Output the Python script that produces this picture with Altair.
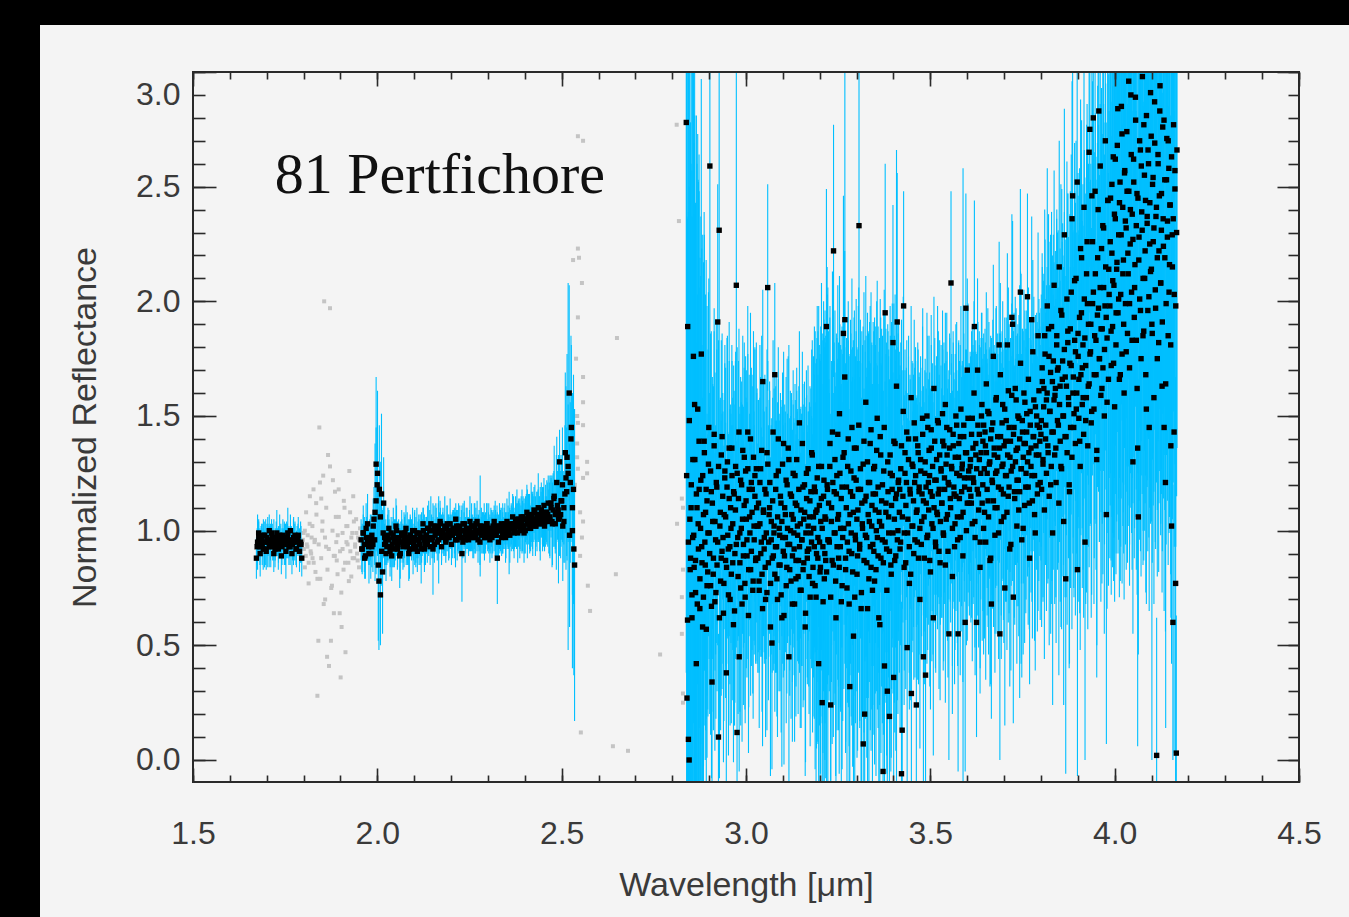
import altair as alt
import numpy as np
import pandas as pd

# ---------------------------------------------------------------------------
# Spectrum of 81 Pertfichore: reflectance and 1-sigma errors in hundredths.
# Every block is sampled evenly between its first and last wavelength (um);
# the "B" blocks are the interleaved second read-out of the same range.
# ---------------------------------------------------------------------------
A_RANGE = (1.672, 1.795)
A_REFL = [88, 95, 97, 93, 96, 94, 98, 92, 95, 97,
          96, 93, 95, 99, 94, 96, 92, 97, 95, 94,
          98, 96, 93, 95, 97, 94, 96, 99, 95, 93,
          96, 94, 97, 95, 92, 96, 98, 94, 95, 88]
A_ERR = [9, 12, 7, 8, 6, 9, 7, 8, 10, 6,
         7, 9, 8, 6, 7, 9, 8, 7, 6, 8,
         9, 7, 8, 6, 7, 9, 8, 11, 7, 8,
         6, 7, 9, 8, 7, 6, 8, 7, 9, 8]
A2_RANGE = (1.674, 1.793)
A2_REFL = [93, 99, 90, 96, 92, 98, 91, 95, 100, 93,
           97, 90, 94, 99, 92, 96, 89, 98, 94, 91,
           97, 93, 100, 90, 95, 98, 92, 96, 91, 94]
A2_ERR = [8, 6, 10, 7, 9, 6, 8, 11, 7, 9,
          6, 8, 7, 10, 9, 6, 8, 7, 9, 12,
          6, 8, 7, 9, 10, 6, 8, 7, 9, 8]

B_RANGE = (1.956, 2.535)
B_REFL = [96, 92, 99, 94, 89, 97, 103, 93, 95, 90,
          98, 94, 105, 108, 129, 120, 85, 118, 72, 116,
          82, 112, 97, 95, 93, 98, 96, 91, 99, 94,
          97, 92, 96, 100, 94, 97, 89, 95, 98, 93,
          96, 99, 94, 97, 95, 92, 98, 96, 100, 94,
          97, 93, 99, 96, 95, 98, 92, 97, 100, 96,
          94, 98, 101, 97, 100, 103, 96, 92, 102, 98,
          100, 95, 101, 99, 103, 97, 100, 98, 102, 96,
          101, 99, 97, 103, 100, 98, 101, 99, 96, 102,
          100, 98, 101, 97, 90, 103, 100, 96, 101, 99,
          98, 100, 98, 102, 99, 97, 101, 103, 99, 96,
          100, 102, 98, 101, 99, 97, 100, 103, 98, 101,
          99, 100, 97, 102, 99, 101, 98, 88, 100, 102,
          100, 97, 101, 99, 103, 98, 100, 102, 99, 101,
          101, 101, 103, 100, 104, 102, 99, 105, 103, 101,
          104, 106, 102, 100, 105, 103, 107, 104, 101, 106,
          103, 105, 108, 102, 104, 107, 105, 103, 109, 104,
          106, 102, 108, 105, 107, 104, 106, 112, 104, 109,
          115, 103, 108, 111, 105, 130, 107, 113, 102, 110,
          116, 123, 132, 128, 160, 121, 145, 100, 118, 85]
B_ERR = [9, 11, 8, 12, 10, 9, 13, 8, 10, 11,
         9, 12, 14, 30, 38, 25, 33, 28, 22, 35,
         27, 20, 15, 10, 8, 12, 9, 11, 7, 10,
         13, 8, 9, 11, 10, 8, 14, 9, 7, 10,
         12, 8, 9, 11, 10, 13, 8, 9, 10, 7,
         12, 9, 11, 8, 10, 9, 15, 8, 10, 11,
         9, 8, 10, 7, 9, 12, 8, 20, 9, 7,
         10, 8, 11, 9, 7, 10, 8, 9, 13, 7,
         10, 8, 9, 11, 7, 10, 8, 9, 12, 7,
         9, 8, 10, 7, 21, 9, 8, 10, 9, 7,
         8, 9, 7, 10, 8, 9, 11, 7, 8, 10,
         9, 22, 8, 7, 9, 10, 8, 9, 7, 11,
         8, 10, 9, 7, 8, 12, 9, 20, 7, 10,
         9, 8, 11, 7, 9, 10, 8, 9, 18, 8,
         10, 9, 12, 8, 11, 10, 13, 9, 11, 10,
         14, 9, 12, 10, 11, 15, 9, 12, 10, 11,
         14, 10, 12, 9, 13, 11, 10, 16, 12, 10,
         13, 11, 12, 10, 14, 14, 18, 12, 20, 16,
         22, 13, 25, 15, 28, 14, 19, 17, 24, 16,
         30, 40, 45, 80, 47, 35, 36, 60, 50, 68]
B2_RANGE = (1.958, 2.533)
B2_REFL = [92, 99, 88, 101, 95, 90, 97, 93, 102, 96,
           113, 125, 78, 106, 91, 99, 94, 90, 97, 101,
           93, 89, 98, 95, 102, 92, 96, 90, 99, 94,
           97, 101, 93, 90, 98, 95, 92, 100, 96, 91,
           99, 94, 97, 103, 92, 98, 95, 101, 93, 100,
           97, 94, 102, 99, 96, 104, 93, 100, 98, 95,
           103, 97, 100, 94, 101, 99, 105, 96, 102, 98,
           100, 95, 103, 98, 101, 96, 104, 99, 97, 102,
           98, 104, 100, 95, 102, 99, 101, 97, 103, 100,
           96, 101, 99, 104, 98, 102, 95, 100, 103, 99,
           101, 97, 104, 100, 98, 103, 106, 99, 102, 105,
           103, 100, 106, 102, 99, 105, 108, 103, 101, 107,
           104, 109, 102, 106, 110, 103, 107, 105, 111, 104,
           108, 112, 105, 110, 103, 114, 107, 121, 109, 106,
           113, 120, 104, 134, 117, 125, 98, 140, 110, 92]
B2_ERR = [10, 12, 9, 11, 8, 13, 10, 9, 12, 11,
          32, 36, 30, 24, 15, 11, 9, 12, 10, 8,
          9, 11, 8, 10, 12, 9, 7, 11, 10, 8,
          9, 10, 8, 12, 9, 7, 11, 8, 10, 9,
          8, 9, 11, 7, 10, 8, 9, 12, 8, 7,
          9, 8, 10, 7, 19, 9, 8, 10, 7, 9,
          8, 10, 7, 9, 8, 11, 7, 9, 10, 8,
          9, 7, 10, 8, 9, 7, 11, 8, 9, 10,
          8, 9, 7, 10, 8, 9, 11, 7, 9, 8,
          10, 8, 9, 7, 11, 9, 8, 10, 7, 9,
          9, 11, 10, 8, 12, 9, 10, 11, 9, 13,
          10, 12, 9, 11, 13, 10, 12, 9, 11, 14,
          12, 10, 13, 11, 15, 12, 10, 14, 12, 11,
          14, 12, 16, 13, 18, 12, 15, 20, 14, 17,
          20, 25, 18, 35, 28, 30, 40, 45, 38, 55]

C1_RANGE = (2.838, 3.030)
C1_REFL = [278, 27, 189, 9, 0, 105, 88, 120, 62, 97,
           176, 84, 131, 73, 42, 110, 153, 92, 118, 66,
           101, 177, 86, 124, 71, 139, 95, 108, 57, 113,
           82, 129, 99, 259, 76, 117, 34, 104, 88, 142,
           69, 96, 121, 85, 191, 10, 231, 102, 78, 133,
           91, 115, 64, 107, 126, 87, 38, 119, 98, 72,
           136, 93, 110, 81, 124, 103, 59, 116, 90, 128,
           207, 12, 97, 114, 45, 86, 122, 101, 68, 135,
           94, 111, 77, 126, 105, 89, 143, 63, 118, 99,
           83, 121, 108, 74, 132, 96, 115, 87, 127, 102]
C1_ERR = [240, 210, 180, 230, 250, 220, 190, 205, 175, 215,
          160, 185, 150, 170, 140, 150, 120, 160, 130, 140,
          110, 120, 95, 105, 90, 100, 80, 95, 70, 85,
          60, 75, 55, 160, 65, 70, 50, 60, 75, 55,
          65, 50, 70, 55, 60, 45, 130, 55, 65, 50,
          60, 45, 65, 50, 55, 60, 50, 65, 45, 70,
          55, 60, 45, 65, 50, 55, 60, 45, 65, 50,
          110, 55, 45, 60, 50, 65, 45, 55, 60, 50,
          45, 60, 55, 50, 65, 45, 55, 60, 50, 45,
          55, 50, 60, 45, 55, 50, 65, 45, 55, 60]
C1B_RANGE = (2.839, 3.029)
C1B_REFL = [124, 61, 95, 148, 83, 110, 72, 131, 98, 155,
            87, 116, 68, 103, 139, 79, 122, 93, 58, 107,
            134, 85, 118, 76, 99, 145, 90, 126, 67, 112,
            81, 137, 104, 73, 119, 95, 128, 62, 108, 88,
            141, 97, 77, 123, 106, 84, 130, 92, 114, 70,
            101, 136, 86, 117, 65, 109, 94, 125, 80, 143,
            99, 75, 120, 105, 89, 132, 71, 113, 96, 127,
            83, 106, 140, 91, 118, 78, 102, 124, 88, 110]
C1B_ERR = [210, 175, 230, 160, 195, 150, 185, 170, 140, 200,
           155, 165, 135, 150, 125, 140, 115, 130, 100, 110,
           95, 85, 100, 75, 80, 65, 70, 60, 75, 55,
           60, 50, 65, 55, 60, 45, 55, 70, 50, 60,
           45, 55, 60, 50, 65, 45, 55, 50, 60, 55,
           50, 45, 60, 55, 50, 65, 45, 55, 60, 45,
           55, 60, 45, 50, 65, 50, 55, 45, 60, 50,
           60, 45, 55, 50, 45, 60, 50, 55, 45, 50]

C2_RANGE = (3.032, 3.222)
C2_REFL = [88, 112, 74, 103, 127, 95, 81, 165, 109, 92,
           118, 70, 99, 134, 206, 86, 107, 121, 77, 96,
           51, 113, 89, 102, 168, 93, 124, 79, 106, 140,
           85, 98, 115, 72, 104, 129, 91, 63, 110, 97,
           122, 84, 101, 136, 45, 94, 116, 78, 107, 89,
           125, 99, 68, 112, 87, 131, 102, 80, 118, 93,
           74, 109, 96, 138, 83, 105, 120, 58, 99, 114,
           88, 127, 92, 106, 71, 117, 95, 133, 84, 101,
           119, 76, 108, 90, 123, 97, 42, 111, 82, 104,
           128, 25, 93, 115, 79, 106, 87, 189, 120, 96]
C2_ERR = [50, 45, 60, 55, 40, 50, 60, 40, 55, 45,
          50, 60, 55, 45, 45, 60, 50, 40, 55, 50,
          55, 45, 50, 60, 40, 55, 45, 60, 50, 40,
          55, 50, 45, 60, 50, 40, 55, 65, 45, 50,
          45, 55, 50, 40, 60, 55, 45, 60, 50, 55,
          45, 50, 60, 45, 55, 40, 50, 60, 45, 55,
          60, 45, 55, 40, 60, 50, 45, 65, 55, 45,
          55, 45, 60, 50, 65, 45, 55, 50, 65, 55,
          70, 80, 65, 85, 75, 90, 80, 70, 95, 85,
          80, 100, 90, 85, 105, 90, 95, 60, 95, 110]
C2B_RANGE = (3.033, 3.221)
C2B_REFL = [102, 78, 121, 90, 135, 66, 108, 97, 84, 116,
            73, 129, 95, 110, 58, 104, 88, 143, 99, 81,
            118, 93, 70, 126, 101, 85, 112, 62, 97, 138,
            89, 107, 76, 120, 94, 131, 83, 100, 115, 68,
            105, 92, 124, 79, 111, 98, 87, 147, 103, 74,
            96, 119, 86, 108, 64, 125, 91, 102, 80, 113,
            99, 134, 77, 106, 93, 117, 71, 109, 88, 128,
            95, 84, 114, 101, 69, 122, 90, 105, 82, 118]
C2B_ERR = [55, 40, 60, 45, 50, 60, 45, 55, 40, 50,
           60, 45, 50, 55, 65, 45, 50, 40, 45, 60,
           45, 55, 60, 40, 50, 55, 45, 65, 55, 40,
           50, 45, 60, 55, 40, 50, 55, 50, 45, 60,
           50, 55, 40, 60, 50, 55, 45, 40, 50, 60,
           55, 45, 60, 50, 65, 45, 55, 50, 60, 50,
           55, 45, 65, 70, 75, 70, 85, 75, 80, 70,
           80, 90, 75, 85, 95, 70, 90, 80, 95, 85]

C3_RANGE = (3.224, 3.414)
C3_REFL = [112, 95, 138, 24, 104, 87, 121, 222, 99, 131,
           78, 116, 93, 142, 107, 84, 125, 101, 69, 119,
           97, 186, 134, 192, 88, 110, 75, 128, 103, 91,
           32, 117, 99, 145, 82, 108, 123, 71, 96, 136,
           105, 89, 118, 233, 94, 127, 66, 112, 101, 7,
           139, 20, 98, 115, 86, 130, 107, 79, 121, 93,
           144, 102, 74, 116, 91, 128, 109, 83, 135, 97,
           119, 62, 104, 141, 88, 113, 96, -5, 126, 41,
           195, 108, 92, 30, 117, 99, 19, 133, 85, 111,
           124, 182, 36, 105, 138, 89, 116, 191, 100, 122]
C3_ERR = [75, 65, 60, 85, 70, 80, 65, 55, 75, 65,
          85, 70, 80, 65, 75, 90, 65, 80, 95, 70,
          80, 60, 75, 150, 85, 70, 90, 65, 80, 85,
          90, 75, 80, 65, 85, 75, 70, 95, 80, 65,
          75, 85, 80, 120, 80, 65, 90, 75, 80, 85,
          65, 90, 80, 70, 85, 65, 80, 90, 70, 80,
          60, 80, 90, 75, 80, 65, 80, 90, 65, 75,
          70, 85, 80, 60, 85, 75, 80, 95, 70, 85,
          65, 80, 90, 75, 70, 80, 85, 65, 90, 80,
          75, 60, 85, 80, 65, 85, 150, 65, 80, 70]
C3B_RANGE = (3.225, 3.413)
C3B_REFL = [96, 128, 71, 110, 143, 85, 117, 99, 62, 124,
            105, 88, 151, 93, 114, 76, 132, 101, 167, 83,
            119, 95, 140, 68, 107, 126, 90, 115, 54, 136,
            98, 122, 81, 109, 146, 92, 118, 73, 103, 129,
            87, 113, 156, 97, 66, 121, 104, 138, 84, 111,
            94, 127, 78, 116, 100, 149, 89, 108, 59, 133,
            102, 120, 86, 145, 95, 112, 74, 130, 106, 91,
            125, 81, 118, 99, 139, 87, 114, 163, 96, 121]
C3B_ERR = [70, 65, 80, 60, 70, 75, 65, 70, 85, 60,
           70, 75, 60, 70, 65, 80, 60, 70, 55, 75,
           65, 70, 60, 85, 70, 60, 75, 65, 90, 60,
           70, 65, 80, 70, 60, 75, 65, 85, 70, 60,
           75, 70, 55, 70, 85, 65, 70, 60, 80, 70,
           70, 60, 80, 65, 70, 60, 75, 70, 85, 60,
           70, 65, 75, 60, 70, 65, 80, 60, 70, 75,
           60, 80, 65, 70, 60, 75, 65, 55, 70, 65]

C4_RANGE = (3.416, 3.606)
C4_REFL = [108, 92, 127, -6, 13, 115, 198, 99, 134, 86,
           121, 49, 105, 140, 93, 118, 81, 29, 129, 102,
           113, 147, 96, 124, 24, 109, 137, 88, 119, 101,
           131, 94, 116, 142, 45, 106, 125, 37, 112, 150,
           98, 121, 135, 87, 117, 144, 103, 128, 62, 110,
           139, 95, 122, 108, 148, 116, 91, 133, 104, 126,
           112, 151, 99, 137, 118, 85, 129, 145, 107, 121,
           55, 136, 114, 208, 127, 101, 142, 119, 93, 132,
           115, 146, 106, 55, 138, 124, 97, 153, 117, 129,
           108, 141, 123, 60, 197, 134, 112, 149, 126, 118]
C4_ERR = [70, 80, 55, 75, 85, 55, 50, 60, 45, 55,
          50, 60, 55, 45, 55, 50, 55, 65, 45, 50,
          55, 45, 60, 50, 65, 50, 45, 55, 50, 55,
          45, 50, 45, 55, 60, 50, 45, 60, 50, 45,
          50, 45, 50, 55, 45, 50, 60, 45, 60, 50,
          45, 55, 50, 45, 50, 45, 60, 50, 45, 55,
          50, 45, 60, 45, 50, 60, 45, 50, 55, 45,
          55, 50, 45, 40, 50, 60, 45, 50, 60, 45,
          50, 45, 55, 60, 45, 50, 60, 45, 50, 45,
          150, 55, 45, 65, 50, 45, 60, 50, 45, 55]
C4B_RANGE = (3.417, 3.605)
C4B_REFL = [118, 95, 137, 106, 152, 84, 125, 111, 143, 99,
            131, 77, 116, 158, 102, 128, 90, 121, 140, 108,
            95, 134, 117, 70, 126, 104, 149, 113, 88, 130,
            119, 97, 145, 109, 124, 82, 136, 115, 101, 162,
            122, 93, 131, 107, 147, 118, 86, 127, 112, 139,
            98, 123, 155, 105, 133, 91, 120, 144, 110, 128,
            80, 137, 116, 103, 150, 125, 96, 132, 114, 141,
            106, 127, 89, 146, 119, 134, 100, 170, 123, 112]
C4B_ERR = [50, 45, 55, 40, 50, 60, 45, 50, 40, 50,
           45, 55, 50, 40, 55, 45, 55, 50, 40, 50,
           60, 45, 50, 65, 45, 50, 40, 50, 55, 45,
           50, 55, 40, 50, 45, 60, 45, 50, 55, 40,
           50, 55, 45, 50, 40, 50, 60, 45, 50, 40,
           55, 50, 40, 50, 45, 55, 50, 40, 50, 45,
           60, 45, 50, 55, 40, 45, 55, 50, 45, 40,
           50, 45, 55, 40, 50, 45, 50, 40, 50, 45]

C5_RANGE = (3.608, 3.798)
C5_REFL = [128, 115, 142, 103, 136, 121, 189, 97, 133, 60,
           118, 146, 109, 131, 84, 125, 150, 112, 139, 101,
           127, 143, 95, 134, 118, 152, 106, 129, 87, 140,
           68, 122, 147, 113, 136, 98, 125, 158, 110, 132,
           119, 181, 55, 141, 104, 128, 155, 116, 137, 75,
           124, 148, 108, 133, 161, 119, 92, 139, 126, 193,
           190, 71, 145, 114, 130, 157, 102, 136, 122, 149,
           117, 204, 127, 96, 143, 132, 160, 111, 138, 125,
           151, 202, 119, 134, 88, 146, 128, 192, 113, 141,
           157, 124, 99, 137, 150, 116, 185, 133, 145, 121]
C5_ERR = [50, 55, 45, 60, 45, 50, 55, 60, 45, 50,
          55, 45, 60, 50, 55, 55, 45, 60, 45, 55,
          50, 45, 60, 45, 55, 45, 60, 50, 55, 45,
          50, 50, 45, 55, 45, 60, 50, 40, 55, 45,
          50, 45, 55, 45, 60, 50, 45, 55, 45, 60,
          55, 45, 60, 50, 45, 55, 60, 45, 50, 45,
          45, 55, 50, 55, 45, 40, 60, 50, 55, 45,
          90, 45, 85, 60, 45, 55, 45, 60, 50, 55,
          45, 45, 60, 50, 55, 45, 55, 45, 60, 50,
          45, 55, 60, 50, 45, 60, 45, 55, 50, 60]
C5B_RANGE = (3.609, 3.797)
C5B_REFL = [131, 112, 149, 123, 160, 104, 138, 127, 170, 116,
            142, 95, 134, 155, 120, 146, 108, 137, 164, 125,
            113, 151, 130, 88, 144, 121, 176, 133, 110, 157,
            126, 141, 99, 136, 168, 118, 147, 129, 106, 153,
            139, 124, 181, 115, 145, 132, 94, 159, 128, 142,
            117, 162, 135, 122, 150, 109, 140, 173, 127, 148,
            101, 138, 156, 119, 143, 130, 166, 112, 152, 136,
            124, 178, 141, 107, 154, 133, 146, 120, 161, 139]
C5B_ERR = [45, 50, 40, 55, 40, 55, 45, 50, 40, 55,
           45, 55, 50, 40, 55, 40, 55, 45, 40, 50,
           55, 40, 50, 55, 40, 55, 40, 45, 55, 40,
           50, 45, 55, 50, 40, 55, 40, 50, 55, 40,
           45, 55, 40, 55, 45, 50, 55, 40, 50, 45,
           55, 40, 50, 55, 40, 55, 45, 40, 50, 40,
           55, 45, 40, 55, 45, 50, 40, 55, 40, 45,
           55, 40, 45, 55, 40, 50, 45, 55, 40, 50]

C6_RANGE = (3.800, 3.985)
C6_REFL = [142, 118, 165, 131, 154, 109, 177, 146, 125, 160,
           137, 188, 115, 152, 169, 128, 143, 99, 174, 157,
           133, 162, 121, 185, 148, 171, 112, 155, 139, 196,
           127, 166, 150, 104, 179, 141, 79, 163, 134, 187,
           158, 120, 173, 145, 204, 132, 246, 167, 151, 183,
           138, 210, 160, 83, 176, 149, 193, 128, 168, 219,
           155, 181, 142, 201, 95, 172, 158, 226, 137, 190,
           164, 275, 178, 147, 246, 199, 280, 153, 185, 212,
           168, 131, 194, 240, 283, 175, 206, 159, 223, 188,
           171, 232, 150, 198, 215, 107, 184, 244, 166, 203]
C6_ERR = [55, 60, 50, 60, 55, 65, 50, 55, 60, 55,
          60, 50, 65, 55, 60, 60, 65, 75, 55, 60,
          65, 60, 70, 55, 65, 60, 75, 60, 70, 55,
          70, 60, 70, 80, 60, 70, 85, 65, 75, 60,
          70, 80, 65, 70, 60, 75, 60, 70, 80, 65,
          75, 60, 70, 90, 70, 80, 65, 80, 70, 60,
          80, 70, 80, 65, 95, 75, 85, 60, 80, 70,
          80, 60, 75, 85, 70, 75, 65, 85, 80, 70,
          85, 95, 75, 70, 65, 80, 80, 90, 70, 85,
          90, 75, 95, 80, 80, 100, 85, 75, 90, 80]
C6B_RANGE = (3.801, 3.984)
C6B_REFL = [148, 171, 129, 162, 185, 140, 157, 198, 134, 176,
            152, 120, 189, 165, 143, 207, 159, 136, 181, 170,
            146, 215, 163, 128, 194, 174, 150, 229, 167, 141,
            201, 182, 155, 117, 188, 172, 236, 160, 145, 209,
            178, 153, 252, 186, 166, 139, 223, 195, 171, 158,
            241, 184, 148, 212, 199, 163, 265, 177, 190, 152,
            226, 204, 168, 248, 183, 135, 219, 197, 175, 259,
            188, 162, 233, 206, 179, 270, 193, 156, 244, 214]
C6B_ERR = [55, 50, 60, 50, 55, 55, 50, 60, 55, 50,
           55, 65, 50, 55, 60, 50, 55, 65, 55, 60,
           60, 55, 60, 70, 55, 60, 65, 55, 60, 70,
           60, 65, 60, 75, 60, 65, 60, 70, 70, 60,
           65, 70, 60, 70, 65, 75, 65, 70, 70, 75,
           70, 70, 80, 65, 75, 70, 70, 75, 70, 80,
           70, 75, 80, 70, 80, 85, 75, 80, 80, 70,
           80, 85, 75, 80, 85, 70, 85, 90, 80, 85]

C7_RANGE = (3.987, 4.169)
C7_REFL = [198, 245, 172, 221, 189, 263, 207, 154, 236, 181,
           214, 268, 195, 229, 166, 252, 203, 285, 177, 241,
           218, 160, 257, 199, 232, 274, 186, 212, 248, 171,
           225, 290, 204, 238, 130, 262, 193, 216, 279, 183,
           247, 136, 106, 228, 201, 266, 175, 239, 298, 210,
           187, 255, 222, 168, 281, 234, 196, 260, 145, 243,
           213, 272, 190, 251, 226, 158, 287, 205, 237, 2,
           219, 264, 182, 246, 294, 208, 231, 163, 276, 224,
           145, 253, 121, 199, 271, 235, 185, 258, 216, 242,
           137, 102, 229, 60, 277, 203, 249, 77, 3, 266]
C7_ERR = [110, 120, 100, 115, 105, 125, 110, 85, 120, 100,
          110, 125, 105, 115, 95, 120, 110, 130, 100, 120,
          110, 90, 120, 105, 115, 125, 100, 110, 120, 95,
          115, 130, 105, 115, 75, 125, 105, 110, 125, 100,
          120, 130, 60, 115, 105, 125, 95, 115, 130, 110,
          100, 120, 110, 95, 125, 115, 105, 120, 80, 120,
          110, 125, 190, 120, 115, 90, 130, 110, 115, 60,
          110, 125, 100, 120, 130, 105, 115, 90, 125, 110,
          80, 120, 65, 105, 125, 115, 100, 120, 110, 120,
          75, 60, 115, 60, 125, 110, 120, 90, 60, 130]
C7B_RANGE = (3.988, 4.168)
C7B_REFL = [226, 187, 251, 209, 173, 238, 262, 195, 217, 284,
            201, 243, 168, 229, 273, 212, 190, 256, 235, 178,
            248, 221, 296, 199, 240, 264, 183, 227, 252, 206,
            289, 233, 162, 245, 218, 270, 196, 259, 231, 185,
            277, 210, 244, 153, 237, 266, 202, 225, 291, 214,
            186, 254, 232, 269, 197, 241, 175, 260, 222, 283,
            208, 247, 191, 236, 279, 219, 164, 253, 228, 270,
            204, 242, 181, 263, 215, 236, 143, 257, 198, 230]
C7B_ERR = [115, 100, 120, 110, 95, 115, 125, 105, 110, 130,
           105, 120, 90, 115, 125, 110, 100, 120, 115, 95,
           120, 110, 130, 105, 115, 125, 100, 115, 120, 105,
           130, 115, 90, 120, 110, 125, 105, 120, 115, 100,
           125, 110, 120, 85, 115, 125, 105, 115, 130, 110,
           100, 120, 115, 125, 105, 120, 95, 120, 110, 130,
           110, 120, 100, 115, 125, 110, 150, 120, 115, 125,
           105, 120, 100, 125, 110, 115, 140, 120, 105, 115]

# Telluric / low-signal samples, shown without errors.
G1_RANGE = (1.798, 1.953)
G1_REFL = [96, 92, 100, 89, 94, 98, 86, 103, 91, 97,
           88, 118, 95, 82, 107, 28, 52, 145, 79, 114,
           100, 124, 200, 70, 93, 45, 133, 41, 197, 52,
           76, 122, 64, 89, 106, 87, 98, 118, 64, 36,
           58, 92, 83, 110, 47, 95, 102, 86, 126, 91,
           80, 99, 115, 88, 94, 105, 90, 97, 84, 101]
G1B_RANGE = (1.800, 1.950)
G1B_REFL = [99, 84, 108, 93, 77, 115, 90, 102, 86, 96,
            112, 79, 94, 121, 88, 104, 68, 97, 110, 83,
            92, 128, 75, 100, 89, 117, 95, 81, 106, 91,
            73, 99, 113, 86, 102, 94, 78, 108, 97, 88,
            104, 93, 99, 87, 96]
G2_WL = [2.544, 2.558, 2.544, 2.531, 2.547, 2.555, 2.544, 2.650, 2.539, 2.558,
         2.558, 2.542, 2.544, 2.558, 2.542, 2.542, 2.569, 2.544, 2.569, 2.558,
         2.536, 2.550, 2.558, 2.555, 2.550, 2.647, 2.571, 2.577, 2.767, 2.552,
         2.639, 2.680, 2.826, 2.829, 2.813, 2.829, 2.826, 2.826, 2.829, 2.829,
         2.812, 2.818]
G2_REFL = [2.72, 2.70, 2.23, 2.18, 2.19, 2.08, 1.93, 1.84, 1.75, 1.67,
           1.56, 1.50, 1.47, 1.46, 1.38, 1.32, 1.30, 1.27, 1.25, 1.23,
           1.20, 1.08, 1.04, 0.97, 0.89, 0.81, 0.76, 0.65, 0.46, 0.12,
           0.06, 0.04, 1.14, 1.10, 1.03, 0.83, 0.71, 0.55, 0.29, 0.25,
           2.77, 2.35]

LABEL = ["81 Pertfichore"]
LABEL_WL = [1.722]
LABEL_REFL = [2.472]

X_MAJOR = [1.5, 2.0, 2.5, 3.0, 3.5, 4.0, 4.5]
Y_MAJOR = [0.0, 0.5, 1.0, 1.5, 2.0, 2.5, 3.0]
X_DOMAIN = [1.5, 4.5]
Y_DOMAIN = [-0.096, 3.0]


def block(rng, refl, err):
    wl = np.linspace(rng[0], rng[1], len(refl))
    r = np.asarray(refl, dtype=float) / 100.0
    e = np.asarray(err, dtype=float) / 100.0
    return pd.DataFrame({"wl": wl, "refl": r, "lo": r - e, "hi": r + e})


def masked_block(rng, refl):
    return pd.DataFrame({"wl": np.linspace(rng[0], rng[1], len(refl)),
                         "refl": np.asarray(refl, dtype=float) / 100.0})


spec = pd.concat([
    block(A_RANGE, A_REFL, A_ERR), block(A2_RANGE, A2_REFL, A2_ERR),
    block(B_RANGE, B_REFL, B_ERR), block(B2_RANGE, B2_REFL, B2_ERR),
    block(C1_RANGE, C1_REFL, C1_ERR), block(C1B_RANGE, C1B_REFL, C1B_ERR),
    block(C2_RANGE, C2_REFL, C2_ERR), block(C2B_RANGE, C2B_REFL, C2B_ERR),
    block(C3_RANGE, C3_REFL, C3_ERR), block(C3B_RANGE, C3B_REFL, C3B_ERR),
    block(C4_RANGE, C4_REFL, C4_ERR), block(C4B_RANGE, C4B_REFL, C4B_ERR),
    block(C5_RANGE, C5_REFL, C5_ERR), block(C5B_RANGE, C5B_REFL, C5B_ERR),
    block(C6_RANGE, C6_REFL, C6_ERR), block(C6B_RANGE, C6B_REFL, C6B_ERR),
    block(C7_RANGE, C7_REFL, C7_ERR), block(C7B_RANGE, C7B_REFL, C7B_ERR),
], ignore_index=True).sort_values("wl", kind="stable")

masked = pd.concat([
    masked_block(G1_RANGE, G1_REFL),
    masked_block(G1B_RANGE, G1B_REFL),
    pd.DataFrame({"wl": G2_WL, "refl": G2_REFL}),
], ignore_index=True)

x_minor = [round(1.5 + 0.1 * k, 1) for k in range(31)]
y_minor = [round(0.1 * k, 1) for k in range(31)]

W, H = 1106, 710
PAD = {"left": 193, "top": 72, "right": 50, "bottom": 135}
SANS = "Liberation Sans"
TXT = "#3a3a3a"
TICK = "#2a2a2a"

XS = alt.Scale(domain=X_DOMAIN, nice=False, zero=False)
YS = alt.Scale(domain=Y_DOMAIN, nice=False, zero=False)


def ticks(orient, values, size, **extra):
    """Inward-pointing ticks: the axis is pulled into the plot by its tick length."""
    opts = dict(orient=orient, values=values, tickSize=size, offset=-size,
                domain=False, grid=False, labels=False, tickColor=TICK,
                tickWidth=1.6, zindex=1, title=None)
    opts.update(extra)
    return alt.Axis(**opts)


x_bottom = ticks("bottom", X_MAJOR, 14, labels=True, format=".1f",
                 labelFont=SANS, labelFontSize=32, labelColor=TXT,
                 labelPadding=36, labelFlush=False,
                 title="Wavelength [\u03bcm]", titleFont=SANS, titleFontSize=34,
                 titleFontWeight="normal", titleColor=TXT, titlePadding=19)
y_left = ticks("left", Y_MAJOR, 23, labels=True, format=".1f",
               labelFont=SANS, labelFontSize=32, labelColor=TXT,
               labelPadding=13, labelFlush=True, labelFlushOffset=-7,
               title="Normalized Reflectance", titleFont=SANS, titleFontSize=34,
               titleFontWeight="normal", titleColor=TXT, titlePadding=33)

# light figure panel behind the plot
panel = alt.Chart(pd.DataFrame({"k": [0]})).mark_rect(color="#f4f4f4").encode(
    x=alt.value(40 - PAD["left"]), x2=alt.value(W + PAD["right"]),
    y=alt.value(25 - PAD["top"]), y2=alt.value(H + PAD["bottom"]),
)

grey = alt.Chart(masked).mark_square(size=16, color="#c4c4c4", opacity=1, clip=True).encode(
    x=alt.X("wl:Q", scale=XS, axis=x_bottom),
    y=alt.Y("refl:Q", scale=YS, axis=y_left),
)

bars = alt.Chart(spec).mark_rule(color="#00bfff", strokeWidth=1.1, clip=True).encode(
    x=alt.X("wl:Q", scale=XS, axis=ticks("bottom", x_minor, 7)),
    y=alt.Y("lo:Q", scale=YS, axis=ticks("left", y_minor, 12)),
    y2="hi:Q",
)

dots = alt.Chart(spec).mark_square(size=29, color="#000000", opacity=1, clip=True).encode(
    x=alt.X("wl:Q", scale=XS, axis=ticks("top", X_MAJOR, 14)),
    y=alt.Y("refl:Q", scale=YS, axis=ticks("right", Y_MAJOR, 22)),
)

frame_df = pd.DataFrame({"x0": [X_DOMAIN[0]], "x1": [X_DOMAIN[1]],
                         "y0": [Y_DOMAIN[0]], "y1": [Y_DOMAIN[1]]})
frame = alt.Chart(frame_df).mark_rect(fillOpacity=0, stroke="#2a2a2a", strokeWidth=2).encode(
    x=alt.X("x0:Q", scale=XS, axis=ticks("top", x_minor, 7)),
    x2="x1:Q",
    y=alt.Y("y0:Q", scale=YS, axis=ticks("right", y_minor, 11)),
    y2="y1:Q",
)

label = alt.Chart(pd.DataFrame({"name": LABEL, "wl": LABEL_WL, "refl": LABEL_REFL})).mark_text(
    font="Liberation Serif", fontSize=58, align="left", baseline="alphabetic", color="#111111",
).encode(
    x=alt.X("wl:Q", scale=XS, axis=None),
    y=alt.Y("refl:Q", scale=YS, axis=None),
    text="name:N",
)

chart = alt.layer(panel, grey, bars, dots, label, frame).resolve_axis(
    x="independent", y="independent"
).properties(
    width=W, height=H, padding=PAD, autosize="none", background="#000000",
).configure_view(stroke=None)

chart.save("out.html", embed_options={"renderer": "svg", "actions": False})
